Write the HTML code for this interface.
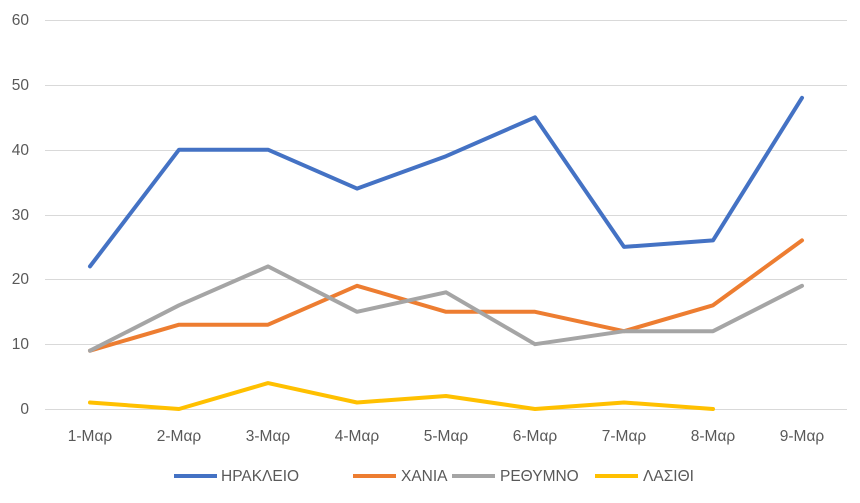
<!DOCTYPE html>
<html><head><meta charset="utf-8"><style>
body{margin:0;background:#fff;}
svg text{font-family:"Liberation Sans",sans-serif;font-size:15.5px;fill:#595959;}
</style></head><body>
<svg width="860" height="498" xmlns="http://www.w3.org/2000/svg">
<g stroke="#d9d9d9" stroke-width="1">
<line x1="45" y1="20.5" x2="847" y2="20.5"/>
<line x1="45" y1="85.5" x2="847" y2="85.5"/>
<line x1="45" y1="150.5" x2="847" y2="150.5"/>
<line x1="45" y1="215.5" x2="847" y2="215.5"/>
<line x1="45" y1="279.5" x2="847" y2="279.5"/>
<line x1="45" y1="344.5" x2="847" y2="344.5"/>
<line x1="45" y1="409.5" x2="847" y2="409.5"/>
</g>
<g text-anchor="end">
<text x="29" y="25">60</text><text x="29" y="90">50</text><text x="29" y="155">40</text>
<text x="29" y="220">30</text><text x="29" y="284">20</text><text x="29" y="349">10</text><text x="29" y="414">0</text>
</g>
<g text-anchor="middle">
<text x="90" y="441">1-Μαρ</text><text x="179" y="441">2-Μαρ</text><text x="268" y="441">3-Μαρ</text>
<text x="357" y="441">4-Μαρ</text><text x="446" y="441">5-Μαρ</text><text x="535" y="441">6-Μαρ</text>
<text x="624" y="441">7-Μαρ</text><text x="713" y="441">8-Μαρ</text><text x="802" y="441">9-Μαρ</text>
</g>
<g fill="none" stroke-width="4" stroke-linejoin="round" stroke-linecap="round">
<polyline stroke="#4472c4" points="90,266.4 179,149.7 268,149.7 357,188.6 446,156.2 535,117.3 624,246.9 713,240.4 802,97.8"/>
<polyline stroke="#ed7d31" points="90,350.7 179,324.7 268,324.7 357,285.8 446,311.8 535,311.8 624,331.2 713,305.3 802,240.4"/>
<polyline stroke="#a5a5a5" points="90,350.7 179,305.3 268,266.4 357,311.8 446,292.3 535,344.2 624,331.2 713,331.2 802,285.8"/>
<polyline stroke="#ffc000" points="90,402.5 179,409 268,383.1 357,402.5 446,396 535,409 624,402.5 713,409"/>
</g>
<g stroke-width="4">
<line x1="174" y1="476" x2="217" y2="476" stroke="#4472c4"/>
<line x1="353" y1="476" x2="396" y2="476" stroke="#ed7d31"/>
<line x1="452" y1="476" x2="495" y2="476" stroke="#a5a5a5"/>
<line x1="595" y1="476" x2="638" y2="476" stroke="#ffc000"/>
</g>
<text x="221" y="481">ΗΡΑΚΛΕΙΟ</text>
<text x="401" y="481">ΧΑΝΙΑ</text>
<text x="500" y="481">ΡΕΘΥΜΝΟ</text>
<text x="643" y="481">ΛΑΣΙΘΙ</text>
</svg>
</body></html>
